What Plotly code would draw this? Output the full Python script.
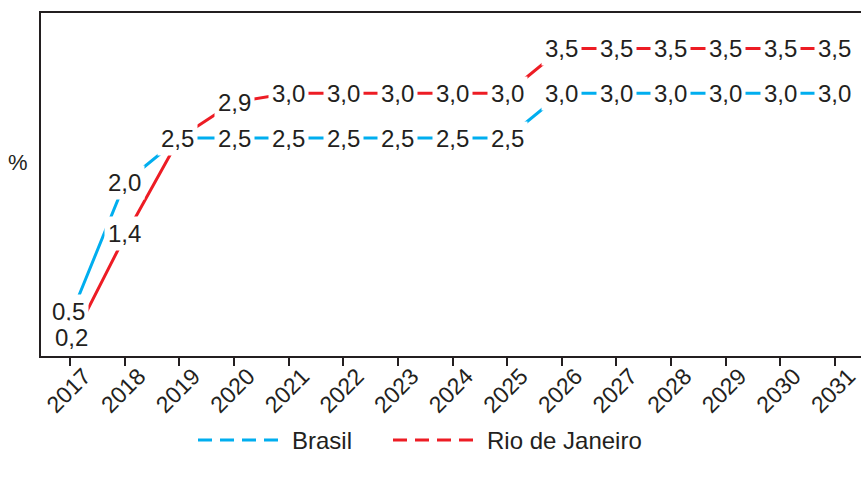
import plotly.graph_objects as go

# Projection series (%), one value per year
years = [2017, 2018, 2019, 2020, 2021, 2022, 2023, 2024, 2025,
         2026, 2027, 2028, 2029, 2030, 2031]
brasil = [0.5, 2.0, 2.5, 2.5, 2.5, 2.5, 2.5, 2.5, 2.5,
          3.0, 3.0, 3.0, 3.0, 3.0, 3.0]
rio = [0.2, 1.4, 2.5, 2.9, 3.0, 3.0, 3.0, 3.0, 3.0,
       3.5, 3.5, 3.5, 3.5, 3.5, 3.5]
tick_labels = [str(y) for y in years]
series_names = ["Brasil", "Rio de Janeiro"]

BLUE = "#00AEEF"
RED = "#ED1C24"
INK = "#231F20"
FONT = "Liberation Sans, Arial, sans-serif"

# Small pixel nudges (dx, dy) for crowded value labels
label_nudge = {
    ("Brasil", 2017): (-2, 5),
    ("Rio de Janeiro", 2017): (1, 6),
    ("Rio de Janeiro", 2018): (0, 3),
    ("Brasil", 2019): (-2, 0),
}

fig = go.Figure()

for name, values, color in [(series_names[0], brasil, BLUE),
                            (series_names[1], rio, RED)]:
    fig.add_trace(go.Scatter(
        x=years, y=values, mode="lines", name=name,
        line=dict(color=color, width=3), showlegend=False,
        hoverinfo="skip",
    ))


def fmt(v):
    return f"{v:.1f}".replace(".", ",")


# Value labels sit on the points, their white boxes interrupting the lines
seen = set()
for name, values in zip(series_names, (brasil, rio)):
    for x, v in zip(years, values):
        if (x, v) in seen:
            continue
        seen.add((x, v))
        dx, dy = label_nudge.get((name, x), (0, 0))
        fig.add_annotation(
            x=x, y=v, text=fmt(v), showarrow=False,
            font=dict(family=FONT, size=24, color=INK),
            bgcolor="white", borderpad=3,
            xanchor="center", yanchor="middle",
            xshift=dx, yshift=dy,
        )

# Legend drawn by hand with long dashed keys
legend_y = -(440 - 356) / 343
legend_items = [(series_names[0], BLUE, 198, 283, 290),
                (series_names[1], RED, 393, 478, 485)]
for label, color, x0, x1, xt in legend_items:
    fig.add_shape(type="line", xref="paper", yref="paper",
                  x0=(x0 - 41) / 820, x1=(x1 - 41) / 820,
                  y0=legend_y, y1=legend_y,
                  line=dict(color=color, width=3, dash="14px,8px"))
    fig.add_annotation(xref="paper", yref="paper",
                       x=(xt - 41) / 820, y=legend_y,
                       text=label, showarrow=False,
                       xanchor="left", yanchor="middle",
                       font=dict(family=FONT, size=24, color=INK))

# "%" unit marker beside the y axis
fig.add_annotation(xref="paper", yref="paper", x=-(41 - 18) / 820,
                   y=(356 - 162) / 343, text="%", showarrow=False,
                   xanchor="center", yanchor="middle",
                   font=dict(family=FONT, size=22, color=INK))

fig.update_xaxes(
    range=[2016.465, 2031.48], tickmode="array", tickvals=years,
    ticktext=tick_labels, tickangle=-45, ticks="outside", ticklen=8,
    tickwidth=1.5, tickcolor=INK, showline=True, linecolor=INK,
    linewidth=1.5, mirror=True, showgrid=False, zeroline=False,
    tickfont=dict(family=FONT, size=23, color=INK),
    ticklabelstandoff=-12, ticklabelshift=14,
)
fig.update_yaxes(
    range=[0.064, 3.897], showticklabels=False, ticks="",
    showline=True, linecolor=INK, linewidth=1.5, mirror=False,
    showgrid=False, zeroline=False,
)

fig.update_layout(
    width=861, height=481,
    margin=dict(l=41, r=0, t=13, b=125),
    paper_bgcolor="white", plot_bgcolor="white",
    showlegend=False,
    font=dict(family=FONT, color=INK),
)

fig.write_html("out.html")
